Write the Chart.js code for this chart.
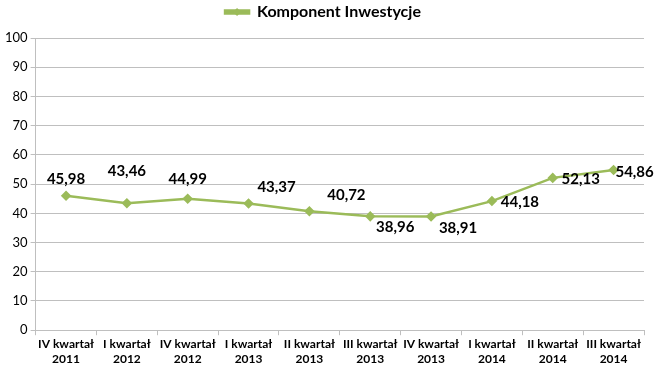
<!DOCTYPE html>
<html>
<head>
<meta charset="utf-8">
<script src="https://cdn.jsdelivr.net/npm/chart.js@4"></script>
<style>
  html, body { margin: 0; padding: 0; background: #fff; }
  #wrap { width: 655px; height: 368px; }
</style>
</head>
<body>
<div id="wrap"><canvas id="myChart"></canvas></div>
<script>
"use strict";

const quarterLabels = [
  ["IV kwartał", "2011"], ["I kwartał", "2012"], ["IV kwartał", "2012"],
  ["I kwartał", "2013"], ["II kwartał", "2013"], ["III kwartał", "2013"],
  ["IV kwartał", "2013"], ["I kwartał", "2014"], ["II kwartał", "2014"],
  ["III kwartał", "2014"],
];
const investValues = [45.98, 43.46, 44.99, 43.37, 40.72, 38.96, 38.91, 44.18, 52.13, 54.86];
const seriesName = "Komponent Inwestycje";
const yTicks = [0, 10, 20, 30, 40, 50, 60, 70, 80, 90, 100];

// where each value label sits relative to its point (px)
const labelOffsets = [
  [0, -17], [0, -32], [0, -20], [28, -16], [37, -16],
  [25, 11], [27, 12], [28, 1], [28, 1], [21, 2],
];

const green = "#9BBB59";

const valueLabels = {
  id: "valueLabels",
  afterDatasetsDraw(chart) {
    const ctx = chart.ctx;
    const meta = chart.getDatasetMeta(0);
    ctx.save();
    ctx.font = "bold 15px Lato";
    ctx.fillStyle = "#000";
    ctx.textAlign = "center";
    ctx.textBaseline = "middle";
    meta.data.forEach((pt, i) => {
      const txt = investValues[i].toFixed(2).replace(".", ",");
      ctx.fillText(txt, pt.x + labelOffsets[i][0], pt.y + labelOffsets[i][1]);
    });
    ctx.restore();
  },
};

// legend: diamond on the line sample, and some extra room under it
const legendTweaks = {
  id: "legendTweaks",
  beforeInit(chart) {
    const origFit = chart.legend.fit;
    chart.legend.fit = function () {
      origFit.call(this);
      this.height += 8;
    };
  },
  afterDraw(chart) {
    const boxes = chart.legend.legendHitBoxes;
    if (!boxes || !boxes.length) return;
    const b = boxes[0];
    const ctx = chart.ctx;
    const cx = b.left + 12;
    const cy = b.top + b.height / 2;
    ctx.save();
    ctx.fillStyle = green;
    ctx.beginPath();
    ctx.moveTo(cx, cy - 4);
    ctx.lineTo(cx + 4, cy);
    ctx.lineTo(cx, cy + 4);
    ctx.lineTo(cx - 4, cy);
    ctx.closePath();
    ctx.fill();
    ctx.restore();
  },
};

const ctx = document.getElementById("myChart").getContext("2d");
const myChart = new Chart(ctx, {
  type: "line",
  data: {
    labels: quarterLabels,
    datasets: [
      {
        label: seriesName,
        data: investValues,
        borderColor: green,
        backgroundColor: green,
        borderWidth: 2.5,
        pointStyle: "rectRot",
        pointRadius: 3.5,
        pointBackgroundColor: green,
        pointBorderColor: green,
        tension: 0,
      },
    ],
  },
  options: {
    responsive: true,
    maintainAspectRatio: false,
    animation: false,
    layout: { padding: { left: 2, right: 11, top: 0, bottom: 0 } },
    plugins: {
      legend: {
        display: true,
        position: "top",
        labels: {
          boxWidth: 24,
          boxHeight: 3,
          color: "#000",
          font: { family: "Lato", size: 16, weight: "bold" },
          padding: 4,
        },
      },
      tooltip: { enabled: false },
    },
    scales: {
      x: {
        offset: true,
        grid: {
          display: true,
          drawOnChartArea: false,
          offset: true,
          tickLength: 5,
          color: "#BFBFBF",
        },
        border: { color: "#BFBFBF" },
        ticks: {
          color: "#000",
          font: { family: "Lato", size: 12, weight: "bold" },
          maxRotation: 0,
          autoSkip: false,
          padding: 2,
        },
      },
      y: {
        min: 0,
        max: 100,
        afterBuildTicks(axis) {
          axis.ticks = yTicks.map((v) => ({ value: v }));
        },
        grid: { color: "#BFBFBF", tickLength: 5 },
        border: { color: "#BFBFBF" },
        ticks: {
          color: "#000",
          font: { family: "Lato", size: 13 },
          padding: 3,
        },
      },
    },
  },
  plugins: [valueLabels, legendTweaks],
});
</script>
</body>
</html>
